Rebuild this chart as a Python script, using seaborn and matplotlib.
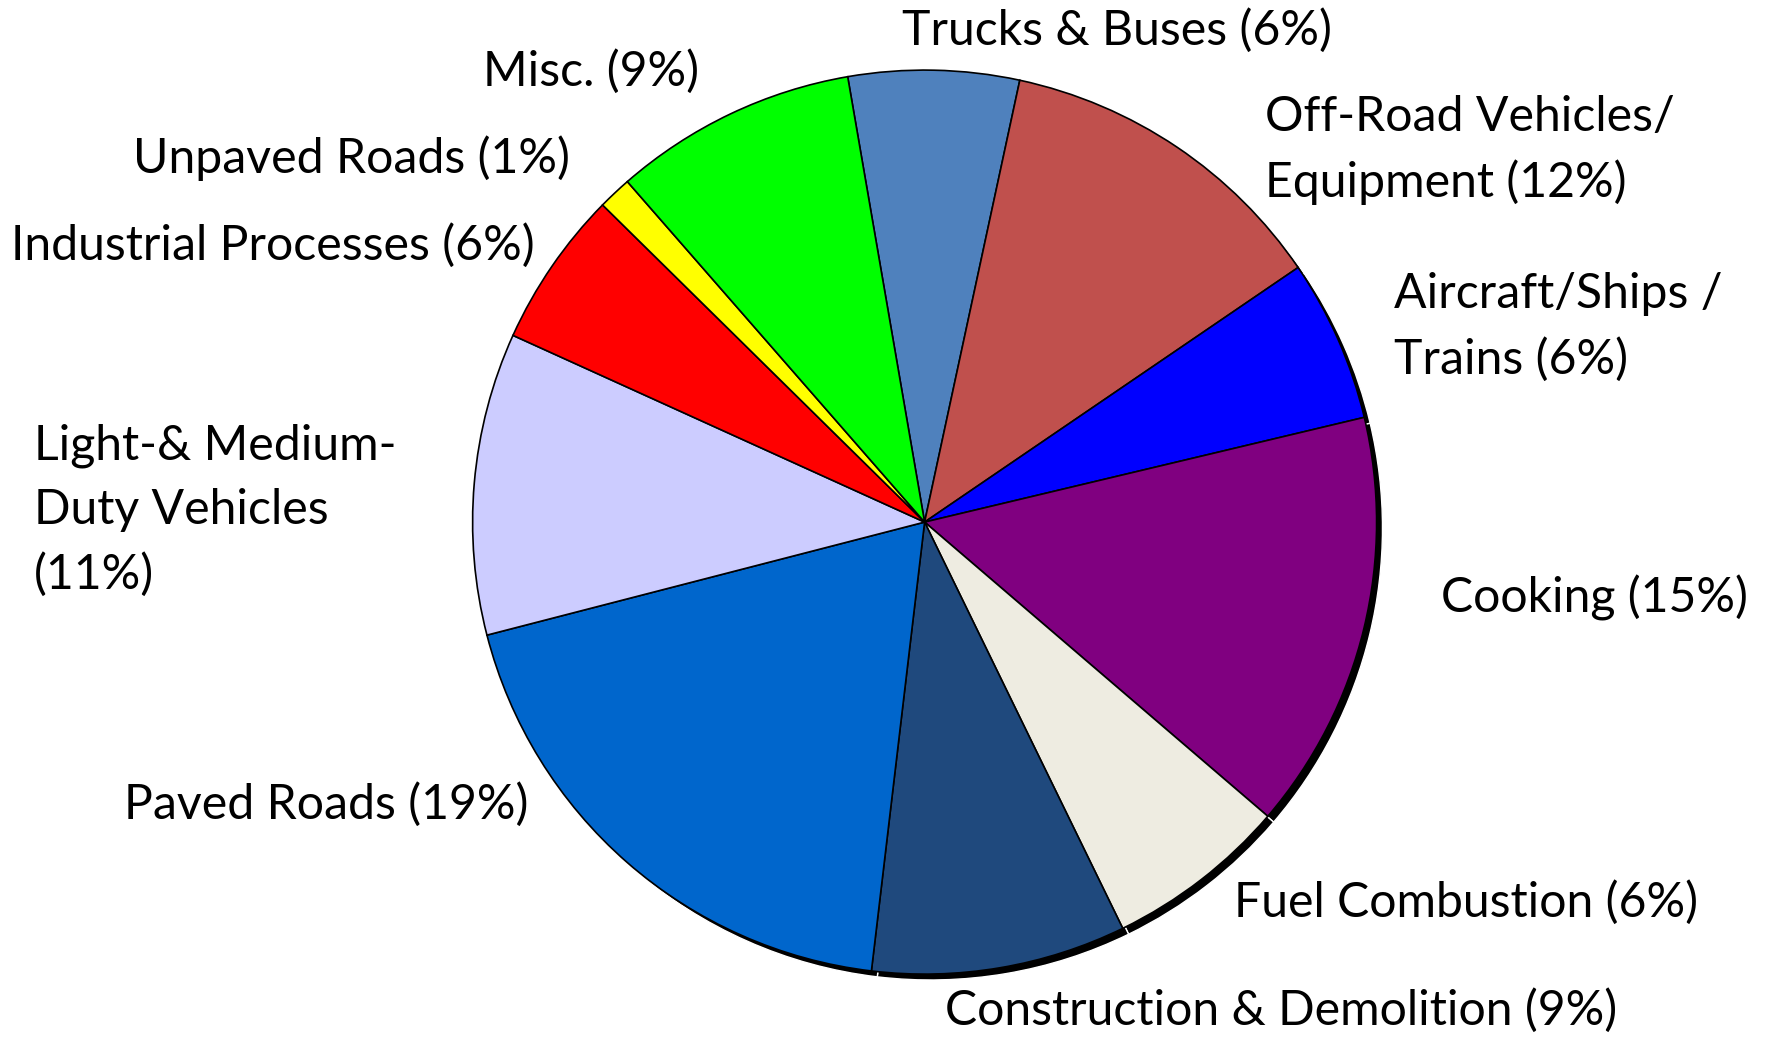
import numpy as np
import matplotlib
matplotlib.use("Agg")
import matplotlib.pyplot as plt
import seaborn as sns

# emission sources, clockwise from the top
sources = ['Trucks & Buses', 'Off-Road Vehicles/\nEquipment', 'Aircraft/Ships /\nTrains',
           'Cooking', 'Fuel Combustion', 'Construction & Demolition', 'Paved Roads',
           'Light-& Medium-\nDuty Vehicles\n', 'Industrial Processes', 'Unpaved Roads', 'Misc.']
shares = [6.1, 12.1, 5.8, 15.0, 6.5, 9.1, 19.1, 10.8, 5.6, 1.2, 8.7]
pct_labels = [6, 12, 6, 15, 6, 9, 19, 11, 6, 1, 9]
colors = ['#4F81BD', '#C0504D', '#0000FF', '#800080', '#EEECE1', '#1F497D',
          '#0066CC', '#CCCCFF', '#FF0000', '#FFFF00', '#00FF00']

# label anchor (left edge, vertical centre) in pixels of the 1768x1039 picture
label_px = [(902, 30), (1265, 150), (1394, 327), (1441, 598), (1234, 902),
            (945, 1011), (124, 805), (34, 510), (11, 245), (133, 158), (483, 71)]

sns.set_theme(style="white")
plt.rcParams['font.family'] = ['Lato', 'DejaVu Sans']

W, H = 1768, 1039
cx, cy, R = 924.6, 522.1, 452.0

fig = plt.figure(figsize=(W / 100, H / 100), dpi=100)
ax = fig.add_axes([0, 0, 1, 1])

# dark drop shadow behind the pie
ax.pie(shares, radius=1.0, center=(0.013, -0.013), colors=['black'] * len(shares),
       startangle=99.8, counterclock=False, frame=True)
ax.pie(shares, radius=1.0, colors=colors, startangle=99.8, counterclock=False,
       wedgeprops=dict(edgecolor='black', linewidth=1.2), frame=True)
ax.set_xlim(-cx / R, (W - cx) / R)
ax.set_ylim(-(H - cy) / R, cy / R)
ax.set_aspect('equal')
ax.axis('off')

for name, p, (px, py) in zip(sources, pct_labels, label_px):
    if name.endswith('\n'):
        txt = name + '(%d%%)' % p
    else:
        txt = name + ' (%d%%)' % p
    ax.text((px - cx) / R, (cy - py) / R, txt, ha='left', va='center',
            fontsize=34.7, linespacing=1.55, color='black')

fig.savefig('out.png', dpi=100)
